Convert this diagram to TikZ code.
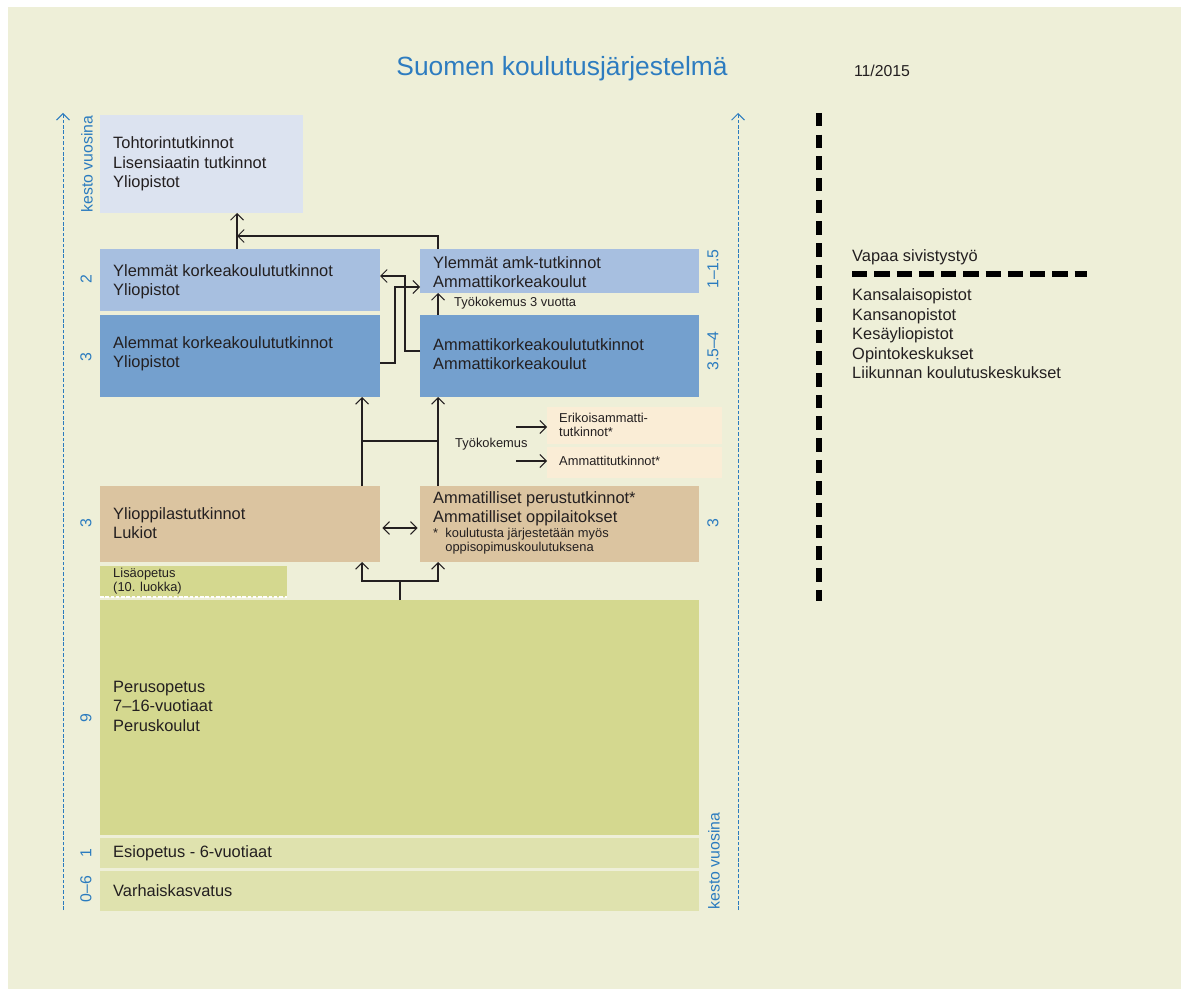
\documentclass[tikz,border=0pt]{standalone}
\usepackage{fontspec}
\setmainfont{Liberation Sans}
\usetikzlibrary{arrows.meta}
\definecolor{bg}{HTML}{EEEFD8}
\definecolor{lav}{HTML}{DCE3F0}
\definecolor{blueA}{HTML}{A7BFE0}
\definecolor{blueB}{HTML}{74A0CE}
\definecolor{tanc}{HTML}{DBC4A0}
\definecolor{peach}{HTML}{FAEDD6}
\definecolor{olive}{HTML}{D4D88F}
\definecolor{olivel}{HTML}{DFE2AE}
\definecolor{axisblue}{HTML}{2A7BBF}
\definecolor{titleblue}{HTML}{2D7CC0}
\definecolor{txt}{HTML}{231F20}
\begin{document}
\begin{tikzpicture}[x=0.03cm,y=-0.03cm,
  bx/.style 2 args={anchor=north west, inner sep=0pt, outer sep=0pt, minimum width=#1*0.03cm, minimum height=#2*0.03cm},
  lbl/.style={anchor=west, align=left, inner sep=0pt, text=txt, font=\fontsize{14}{16.6}\selectfont},
  sml/.style={anchor=west, align=left, inner sep=0pt, text=txt, font=\fontsize{11}{12}\selectfont},
  dur/.style={rotate=90, inner sep=0pt, text=axisblue, font=\fontsize{13.5}{16}\selectfont},
  ln/.style={line width=0.9pt, draw=txt},
  tip/.style={Straight Barb[length=5.5pt,width=11pt]},
  arr/.style={ln, -{Straight Barb[length=5.5pt,width=11pt]}},
  dbl/.style={ln, {Straight Barb[length=5.5pt,width=11pt]}-{Straight Barb[length=5.5pt,width=11pt]}},
  axisline/.style={draw=axisblue, line width=0.8pt, dash pattern=on 3pt off 1.6pt, -{Straight Barb[length=5.5pt,width=11pt]}},
  thickdash/.style={draw=black, line width=5pt, dash pattern=on 11.5pt off 7pt},
  thickdashh/.style={draw=black, line width=4.5pt, dash pattern=on 13pt off 6pt}
]
\useasboundingbox (0,0) rectangle (1186,989);
\fill[white] (0,0) rectangle (1186,989);
\fill[bg] (8,7) rectangle (1181,989);

% title
\node[inner sep=0pt, text=titleblue, font=\fontsize{22.5}{27}\selectfont] (title) at (562,69) {Suomen koulutusjärjestelmä};
\node[inner sep=0pt, text=txt, font=\fontsize{13.5}{16}\selectfont] (date) at (882,71) {11/2015};

% boxes
\node[bx={203}{98}, fill=lav] (toht) at (100,115) {};
\node[bx={280}{62}, fill=blueA] (ylk) at (100,249) {};
\node[bx={280}{82}, fill=blueB] (alk) at (100,315) {};
\node[bx={279}{44}, fill=blueA] (ylamk) at (420,249) {};
\node[bx={279}{82}, fill=blueB] (amk) at (420,315) {};
\node[bx={175}{37}, fill=peach] (erik) at (547,407) {};
\node[bx={175}{31}, fill=peach] (ammt) at (547,447) {};
\node[bx={280}{76}, fill=tanc] (yo) at (100,486) {};
\node[bx={279}{76}, fill=tanc] (ammp) at (420,486) {};
\node[bx={187}{31}, fill=olive] (lisa) at (100,566) {};
\node[bx={599}{235}, fill=olive] (perus) at (100,600) {};
\node[bx={599}{30}, fill=olivel] (esi) at (100,838) {};
\node[bx={599}{40}, fill=olivel] (varh) at (100,871) {};
\draw[white, line width=0.9pt, dash pattern=on 3pt off 1.5pt] (lisa.south west) -- (lisa.south east);

% texts
\node[lbl] (t-toht) at (113,164) {Tohtorintutkinnot\\Lisensiaatin tutkinnot\\Yliopistot};
\node[lbl] (t-ylk) at (113,282) {Ylemmät korkeakoulututkinnot\\Yliopistot};
\node[lbl] (t-alk) at (113,354) {Alemmat korkeakoulututkinnot\\Yliopistot};
\node[lbl] (t-ylamk) at (433,272) {Ylemmät amk-tutkinnot\\Ammattikorkeakoulut};
\node[lbl] (t-amk) at (433,354) {Ammattikorkeakoulututkinnot\\Ammattikorkeakoulut};
\node[sml] (t-erik) at (559,425) {Erikoisammatti-\\tutkinnot*};
\node[sml] (t-ammt) at (559,461) {Ammattitutkinnot*};
\node[lbl] (t-yo) at (113,523) {Ylioppilastutkinnot\\Lukiot};
\node[lbl] (t-ammp) at (433,509) {Ammatilliset perustutkinnot*\\Ammatilliset oppilaitokset};
\node[sml] (t-note) at (433,541) {*\ \ koulutusta järjestetään myös\\\hphantom{*\ \ }oppisopimuskoulutuksena};
\node[sml] (t-lisa) at (113,581) {Lisäopetus\\(10. luokka)};
\node[lbl] (t-perus) at (113,706) {Perusopetus\\7–16-vuotiaat\\Peruskoulut};
\node[lbl] (t-esi) at (113,853) {Esiopetus - 6-vuotiaat};
\node[lbl] (t-varh) at (113,891) {Varhaiskasvatus};
\node[sml] (t-tk3) at (454,303) {Työkokemus 3 vuotta};
\node[sml] (t-tk) at (455,444) {Työkokemus};

% axes
\coordinate (axL0) at (63,910);
\coordinate (axL1) at (63,113);
\coordinate (axR0) at (738,910);
\coordinate (axR1) at (738,113);
\draw[axisline] (axL0) -- (axL1);
\draw[axisline] (axR0) -- (axR1);
\node[dur] (kvL) at (87,164) {kesto vuosina};
\node[dur] (kvR) at (714,861) {kesto vuosina};
\node[dur] (dL1) at (86,279) {2};
\node[dur] (dL2) at (86,357) {3};
\node[dur] (dL3) at (86,523) {3};
\node[dur] (dL4) at (86,718) {9};
\node[dur] (dL5) at (86,853) {1};
\node[dur] (dL6) at (86,889) {0–6};
\node[dur] (dR1) at (713,269) {1–1.5};
\node[dur] (dR2) at (713,351) {3.5–4};
\node[dur] (dR3) at (713,523) {3};

% connectors
\coordinate (j1) at (237,236);
\coordinate (cA) at (438,236);
\draw[arr] (ylk.north -| j1) -- (toht.south -| j1);
\draw[arr] (ylamk.north -| cA) -- (cA) -- (j1);
\coordinate (k1) at (395,363);
\coordinate (k2) at (395,287);
\draw[arr] (alk.east |- k1) -- (k1) -- (k2) -- (ylamk.west |- k2);
\coordinate (m1) at (405,351);
\coordinate (m2) at (405,276);
\draw[arr] (amk.west |- m1) -- (m1) -- (m2) -- (ylk.east |- m2);
\draw[arr] (amk.north -| cA) -- (ylamk.south -| cA);
\coordinate (v1) at (362,441);
\coordinate (v2) at (438,441);
\draw[arr] (yo.north -| v1) -- (alk.south -| v1);
\draw[arr] (ammp.north -| v2) -- (amk.south -| v2);
\draw[ln] (v1) -- (v2);
\coordinate (w1) at (516,427);
\coordinate (w2) at (516,461);
\draw[arr] (w1) -- (erik.west |- w1);
\draw[arr] (w2) -- (ammt.west |- w2);
\coordinate (dd) at (400,528);
\draw[dbl, shorten <=2pt, shorten >=2pt] (yo.east |- dd) -- (ammp.west |- dd);
\coordinate (p1) at (400,581);
\draw[ln] (perus.north -| p1) -- (p1);
\draw[arr] (p1) -| (yo.south -| v1);
\draw[arr] (p1) -| (ammp.south -| v2);

% right side
\coordinate (dv0) at (819,113);
\coordinate (dv1) at (819,601);
\draw[thickdash] (dv0) -- (dv1);
\coordinate (dh0) at (852,274);
\coordinate (dh1) at (1087,274);
\draw[thickdashh] (dh0) -- (dh1);
\node[lbl] (vapaa) at (852,257) {Vapaa sivistystyö};
\node[lbl] (lista) at (852,334) {Kansalaisopistot\\Kansanopistot\\Kesäyliopistot\\Opintokeskukset\\Liikunnan koulutuskeskukset};
\end{tikzpicture}
\end{document}
